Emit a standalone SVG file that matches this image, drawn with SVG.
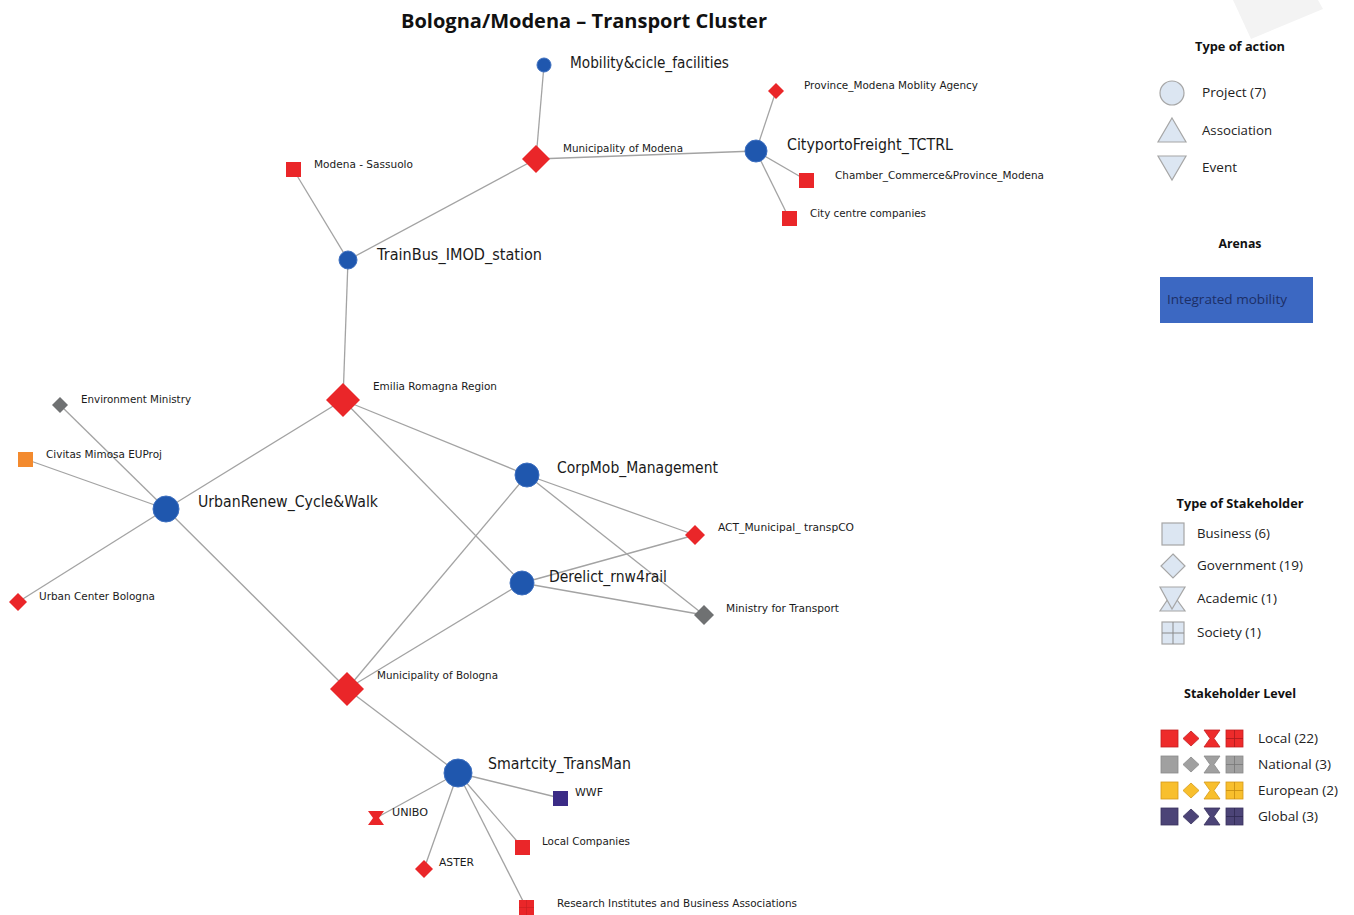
<svg xmlns="http://www.w3.org/2000/svg" width="1354" height="915" viewBox="0 0 1354 915">
<style>
.e{stroke:#a3a3a3;stroke-width:1.3;fill:none}
.big{font-family:"DejaVu Sans","Liberation Sans",sans-serif;font-size:15px;fill:#1a1a1a}
.sm{font-family:"DejaVu Sans","Liberation Sans",sans-serif;font-size:11px;fill:#1a1a1a}
.lg{font-family:"Open Sans","Liberation Sans",sans-serif;font-size:13px;fill:#222}
.lh{font-family:"Open Sans","Liberation Sans",sans-serif;font-size:13px;font-weight:bold;fill:#111;text-anchor:middle}
.blue{fill:#1f57ae;stroke:#3d6fc0;stroke-width:1}
.red{fill:#ea2629}
.gray{fill:#6f7172}
.lt{fill:#dce6f2;stroke:#a6a6a6;stroke-width:1.2}
</style>
<rect width="1354" height="915" fill="#ffffff"/>
<polygon points="1233,0 1251,39 1323,9 1318,0" fill="#f3f3f3"/>
<text x="584" y="28" font-family="'Open Sans','Liberation Sans',sans-serif" font-size="20" font-weight="bold" fill="#111" text-anchor="middle" textLength="366" lengthAdjust="spacingAndGlyphs">Bologna/Modena – Transport Cluster</text>

<g id="connectors">
<line class="e" x1="544" y1="65" x2="536" y2="159"/>
<line class="e" x1="536" y1="159" x2="756" y2="151"/>
<line class="e" x1="756" y1="151" x2="776" y2="91"/>
<line class="e" x1="756" y1="151" x2="806" y2="180"/>
<line class="e" x1="756" y1="151" x2="789" y2="218"/>
<line class="e" x1="536" y1="159" x2="348" y2="260"/>
<line class="e" x1="293" y1="169" x2="348" y2="260"/>
<line class="e" x1="348" y1="260" x2="343" y2="400"/>
<line class="e" x1="343" y1="400" x2="166" y2="509"/>
<line class="e" x1="343" y1="400" x2="527" y2="475"/>
<line class="e" x1="343" y1="400" x2="522" y2="583"/>
<line class="e" x1="166" y1="509" x2="60" y2="405"/>
<line class="e" x1="166" y1="509" x2="25" y2="459"/>
<line class="e" x1="166" y1="509" x2="18" y2="602"/>
<line class="e" x1="166" y1="509" x2="347" y2="689"/>
<line class="e" x1="527" y1="475" x2="695" y2="535"/>
<line class="e" x1="527" y1="475" x2="704" y2="615"/>
<line class="e" x1="527" y1="475" x2="347" y2="689"/>
<line class="e" x1="522" y1="583" x2="695" y2="535"/>
<line class="e" x1="522" y1="583" x2="704" y2="615"/>
<line class="e" x1="522" y1="583" x2="347" y2="689"/>
<line class="e" x1="347" y1="689" x2="458" y2="773"/>
<line class="e" x1="458" y1="773" x2="560" y2="798"/>
<line class="e" x1="458" y1="773" x2="376" y2="818"/>
<line class="e" x1="458" y1="773" x2="424" y2="869"/>
<line class="e" x1="458" y1="773" x2="522" y2="847"/>
<line class="e" x1="458" y1="773" x2="526" y2="907"/>
</g>

<g id="n-mobility"><circle class="blue" cx="544" cy="65" r="7"/><text class="big" x="570" y="68" textLength="159" lengthAdjust="spacingAndGlyphs">Mobility&amp;cicle_facilities</text></g>
<g id="n-mun-modena"><polygon class="red" points="536,145 550,159 536,173 522,159"/><text class="sm" x="563" y="152" textLength="120" lengthAdjust="spacingAndGlyphs">Municipality of Modena</text></g>
<g id="n-cityporto"><circle class="blue" cx="756" cy="151" r="11"/><text class="big" x="787" y="150" textLength="166" lengthAdjust="spacingAndGlyphs">CityportoFreight_TCTRL</text></g>
<g id="n-province"><polygon class="red" points="776,83 784,91 776,99 768,91"/><text class="sm" x="804" y="89" textLength="174" lengthAdjust="spacingAndGlyphs">Province_Modena Moblity Agency</text></g>
<g id="n-chamber"><rect class="red" x="799" y="173" width="15" height="15"/><text class="sm" x="835" y="179" textLength="209" lengthAdjust="spacingAndGlyphs">Chamber_Commerce&amp;Province_Modena</text></g>
<g id="n-citycentre"><rect class="red" x="782" y="211" width="15" height="15"/><text class="sm" x="810" y="217" textLength="116" lengthAdjust="spacingAndGlyphs">City centre companies</text></g>
<g id="n-sassuolo"><rect class="red" x="286" y="162" width="15" height="15"/><text class="sm" x="314" y="168" textLength="99" lengthAdjust="spacingAndGlyphs">Modena - Sassuolo</text></g>
<g id="n-trainbus"><circle class="blue" cx="348" cy="260" r="9"/><text class="big" x="377" y="260" textLength="165" lengthAdjust="spacingAndGlyphs">TrainBus_IMOD_station</text></g>
<g id="n-emilia"><polygon class="red" points="343,383 360,400 343,417 326,400"/><text class="sm" x="373" y="390" textLength="124" lengthAdjust="spacingAndGlyphs">Emilia Romagna Region</text></g>
<g id="n-envmin"><polygon class="gray" points="60,397 68,405 60,413 52,405"/><text class="sm" x="81" y="403" textLength="110" lengthAdjust="spacingAndGlyphs">Environment Ministry</text></g>
<g id="n-civitas"><rect x="18" y="452" width="15" height="15" fill="#f38a2e"/><text class="sm" x="46" y="458" textLength="116" lengthAdjust="spacingAndGlyphs">Civitas Mimosa EUProj</text></g>
<g id="n-urbanrenew"><circle class="blue" cx="166" cy="509" r="13"/><text class="big" x="198" y="507" textLength="180" lengthAdjust="spacingAndGlyphs">UrbanRenew_Cycle&amp;Walk</text></g>
<g id="n-urbancenter"><polygon class="red" points="18,593 27,602 18,611 9,602"/><text class="sm" x="39" y="600" textLength="116" lengthAdjust="spacingAndGlyphs">Urban Center Bologna</text></g>
<g id="n-corpmob"><circle class="blue" cx="527" cy="475" r="12"/><text class="big" x="557" y="473" textLength="161" lengthAdjust="spacingAndGlyphs">CorpMob_Management</text></g>
<g id="n-act"><polygon class="red" points="695,525 705,535 695,545 685,535"/><text class="sm" x="718" y="531" textLength="136" lengthAdjust="spacingAndGlyphs">ACT_Municipal_ transpCO</text></g>
<g id="n-derelict"><circle class="blue" cx="522" cy="583" r="12"/><text class="big" x="549" y="582" textLength="118" lengthAdjust="spacingAndGlyphs">Derelict_rnw4rail</text></g>
<g id="n-mintransport"><polygon class="gray" points="704,605 714,615 704,625 694,615"/><text class="sm" x="726" y="612" textLength="113" lengthAdjust="spacingAndGlyphs">Ministry for Transport</text></g>
<g id="n-mun-bologna"><polygon class="red" points="347,672 364,689 347,706 330,689"/><text class="sm" x="377" y="679" textLength="121" lengthAdjust="spacingAndGlyphs">Municipality of Bologna</text></g>
<g id="n-smartcity"><circle class="blue" cx="458" cy="773" r="14"/><text class="big" x="488" y="769" textLength="143" lengthAdjust="spacingAndGlyphs">Smartcity_TransMan</text></g>
<g id="n-wwf"><rect x="553" y="791" width="15" height="15" fill="#3b2b86"/><text class="sm" x="575" y="796" textLength="28" lengthAdjust="spacingAndGlyphs">WWF</text></g>
<g id="n-unibo"><polygon class="red" points="368,811 384,811 379,818 384,825 368,825 373,818"/><text class="sm" x="392" y="816" textLength="36" lengthAdjust="spacingAndGlyphs">UNIBO</text></g>
<g id="n-aster"><polygon class="red" points="424,860 433,869 424,878 415,869"/><text class="sm" x="439" y="866" textLength="35" lengthAdjust="spacingAndGlyphs">ASTER</text></g>
<g id="n-localcomp"><rect class="red" x="515" y="840" width="15" height="15"/><text class="sm" x="542" y="845" textLength="88" lengthAdjust="spacingAndGlyphs">Local Companies</text></g>
<g id="n-research"><rect class="red" x="519" y="900" width="15" height="15"/><path d="M526.5,900V915M519,907.5H534" stroke="#c81e22" stroke-width="0.6"/><text class="sm" x="557" y="907" textLength="240" lengthAdjust="spacingAndGlyphs">Research Institutes and Business Associations</text></g>

<g id="legend-action">
<text class="lh" x="1240" y="51" textLength="90" lengthAdjust="spacingAndGlyphs">Type of action</text>
<circle class="lt" cx="1172" cy="93" r="12"/>
<text class="lg" x="1202" y="97" textLength="64" lengthAdjust="spacingAndGlyphs">Project (7)</text>
<polygon class="lt" points="1172,118 1186,142 1158,142"/>
<text class="lg" x="1202" y="135" textLength="70" lengthAdjust="spacingAndGlyphs">Association</text>
<polygon class="lt" points="1158,156 1186,156 1172,180"/>
<text class="lg" x="1202" y="172" textLength="35" lengthAdjust="spacingAndGlyphs">Event</text>
</g>
<g id="legend-arenas">
<text class="lh" x="1240" y="248" textLength="43" lengthAdjust="spacingAndGlyphs">Arenas</text>
<rect x="1160" y="277" width="153" height="46" fill="#3c68c2"/>
<text class="lg" x="1167" y="304" style="fill:#1d2f66" textLength="120" lengthAdjust="spacingAndGlyphs">Integrated mobility</text>
</g>
<g id="legend-stakeholder">
<text class="lh" x="1240" y="508" textLength="127" lengthAdjust="spacingAndGlyphs">Type of Stakeholder</text>
<rect class="lt" x="1162" y="523" width="22" height="22"/>
<text class="lg" x="1197" y="538" textLength="73" lengthAdjust="spacingAndGlyphs">Business (6)</text>
<polygon class="lt" points="1173,554 1185,566 1173,578 1161,566"/>
<text class="lg" x="1197" y="570" textLength="106" lengthAdjust="spacingAndGlyphs">Government (19)</text>
<polygon class="lt" points="1160,611 1185,611 1172,593"/>
<polygon class="lt" points="1160,587 1185,587 1172,609"/>
<text class="lg" x="1197" y="603" textLength="80" lengthAdjust="spacingAndGlyphs">Academic (1)</text>
<rect class="lt" x="1162" y="622" width="22" height="22"/>
<path d="M1173,622V644M1162,633H1184" stroke="#8a8a8a" stroke-width="1"/>
<text class="lg" x="1197" y="637" textLength="64" lengthAdjust="spacingAndGlyphs">Society (1)</text>
</g>
<g id="legend-level">
<text class="lh" x="1240" y="698" textLength="112" lengthAdjust="spacingAndGlyphs">Stakeholder Level</text>
<g fill="#ee2b2b" stroke="#c42022" stroke-width="0.8">
<rect x="1161" y="730" width="17" height="17"/>
<polygon points="1191,731 1199,738.5 1191,746 1183,738.5"/>
<polygon points="1204,730 1220,730 1214,738.5 1220,747 1204,747 1210,738.5"/>
<rect x="1226" y="730" width="17" height="17"/>
<path d="M1234.5,730V747M1226,738.5H1243" fill="none" stroke="#a91a1d"/>
</g>
<text class="lg" x="1258" y="743" textLength="60" lengthAdjust="spacingAndGlyphs">Local (22)</text>
<g fill="#a0a0a0" stroke="#8a8a8a" stroke-width="0.8">
<rect x="1161" y="756" width="17" height="17"/>
<polygon points="1191,757 1199,764.5 1191,772 1183,764.5"/>
<polygon points="1204,756 1220,756 1214,764.5 1220,773 1204,773 1210,764.5"/>
<rect x="1226" y="756" width="17" height="17"/>
<path d="M1234.5,756V773M1226,764.5H1243" fill="none" stroke="#777"/>
</g>
<text class="lg" x="1258" y="769" textLength="73" lengthAdjust="spacingAndGlyphs">National (3)</text>
<g fill="#f8bf2d" stroke="#d49a1a" stroke-width="0.8">
<rect x="1161" y="782" width="17" height="17"/>
<polygon points="1191,783 1199,790.5 1191,798 1183,790.5"/>
<polygon points="1204,782 1220,782 1214,790.5 1220,799 1204,799 1210,790.5"/>
<rect x="1226" y="782" width="17" height="17"/>
<path d="M1234.5,782V799M1226,790.5H1243" fill="none" stroke="#c48c10"/>
</g>
<text class="lg" x="1258" y="795" textLength="80" lengthAdjust="spacingAndGlyphs">European (2)</text>
<g fill="#4c4477" stroke="#3a335e" stroke-width="0.8">
<rect x="1161" y="808" width="17" height="17"/>
<polygon points="1191,809 1199,816.5 1191,824 1183,816.5"/>
<polygon points="1204,808 1220,808 1214,816.5 1220,825 1204,825 1210,816.5"/>
<rect x="1226" y="808" width="17" height="17"/>
<path d="M1234.5,808V825M1226,816.5H1243" fill="none" stroke="#2e2850"/>
</g>
<text class="lg" x="1258" y="821" textLength="60" lengthAdjust="spacingAndGlyphs">Global (3)</text>
</g>
</svg>
